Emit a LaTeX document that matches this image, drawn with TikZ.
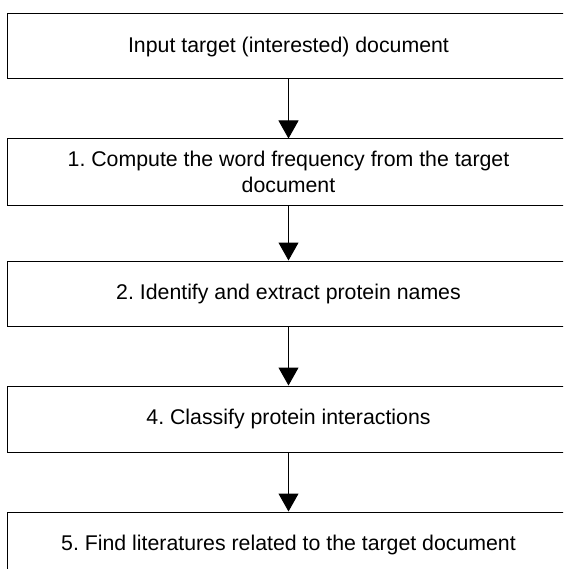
\documentclass[tikz,border=0pt]{standalone}
\usepackage{fontspec}
\setmainfont{Liberation Sans}
\usetikzlibrary{arrows.meta}
\frenchspacing
\begin{document}
\begin{tikzpicture}[x=1pt,y=-1pt,
  stepbox/.style={draw=black,line width=1pt,minimum width=563pt,inner sep=0pt,align=center,
    font=\fontsize{21.3}{25.5}\selectfont},
  arr/.style={line width=1pt,-{Triangle[length=18pt,width=20pt]}}]
\useasboundingbox (0,0) rectangle (563,569);
\clip (0,0) rectangle (563,569);
\node[stepbox,minimum height=65pt] (b1) at (288.5,46.5) {Input target (interested) document};
\node[stepbox,minimum height=66pt] (b2) at (288.5,172) {1. Compute the word frequency from the target\\document};
\node[stepbox,minimum height=65pt] (b3) at (288.5,293.5) {2. Identify and extract protein names};
\node[stepbox,minimum height=66pt] (b4) at (288.5,419) {4. Classify protein interactions};
\node[stepbox,minimum height=65pt] (b5) at (288.5,544.5) {5. Find literatures related to the target document};
\draw[arr] (b1.south) -- (b2.north);
\draw[arr] (b2.south) -- (b3.north);
\draw[arr] (b3.south) -- (b4.north);
\draw[arr] (b4.south) -- (b5.north);
\end{tikzpicture}
\end{document}
